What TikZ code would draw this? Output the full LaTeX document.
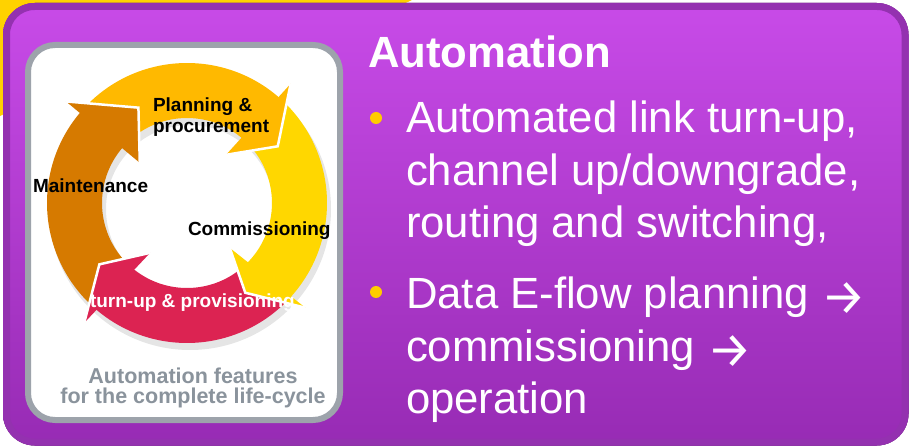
\documentclass[tikz,border=0pt]{standalone}
\usepackage{fontspec}
\setmainfont{Liberation Sans}
\newfontfamily\arrowfont{Fira Sans}
\usetikzlibrary{calc}
\definecolor{bgyellow}{HTML}{FFD200}
\definecolor{boxtop}{HTML}{C84BE8}
\definecolor{boxbot}{HTML}{972BB4}
\definecolor{boxedge}{HTML}{9431B0}
\definecolor{cardedge}{HTML}{9DA3AB}
\definecolor{capgray}{HTML}{8A939C}
\definecolor{planc}{HTML}{FFB900}
\definecolor{commc}{HTML}{FFD700}
\definecolor{turnc}{HTML}{DC2352}
\definecolor{maintc}{HTML}{D67A00}
\definecolor{dotc}{HTML}{FFCC00}
% body: start angle, end angle, colour
\newcommand{\ringbody}[3]{%
  \fill[#3] ($(c)+(#1:140pt)$) arc[start angle=#1, end angle=#2, radius=140pt]
    -- ($(c)+(#2:85pt)$) arc[start angle=#2, end angle=#1, radius=85pt] -- cycle;}
% head: outer barb angle, inner barb angle, tip angle, colour
\newcommand{\ringhead}[4]{%
  \fill[#4] ($(c)+(#1:158pt)$) -- ($(c)+(#3:107pt)$) -- ($(c)+(#2:62pt)$) -- cycle;
  \draw[white, line width=2.5pt, line join=miter] ($(c)+(#1:158pt)$) -- ($(c)+(#3:107pt)$) -- ($(c)+(#2:62pt)$);}
\newcommand{\thinarrow}{{\arrowfont\fontsize{50}{54}\selectfont\raisebox{-6pt}{→}}}
\begin{document}
\begin{tikzpicture}[x=1pt,y=-1pt,
  every node/.style={inner sep=0pt, outer sep=0pt},
  lbl/.style={font=\fontsize{19}{21}\selectfont\bfseries, text=black, anchor=base west},
  btext/.style={font=\fontsize{43.7}{50}\selectfont, text=white, anchor=base west},
  captxt/.style={font=\fontsize{21.5}{20}\selectfont\bfseries, text=capgray, align=center, anchor=base},
  bdot/.style={fill=dotc, draw=none}]
\useasboundingbox (0,0) rectangle (912,446);
\fill[white] (0,0) rectangle (912,446);
% yellow background blob
\fill[bgyellow] (0,0) -- (412,0) .. controls (330,40) and (120,60) .. (0,116) -- cycle;
% purple panel
\fill[top color=boxtop, bottom color=boxbot, rounded corners=32pt] (3,3) rectangle (908.5,445.5);
\draw[boxedge, line width=7pt, rounded corners=28pt] (6.5,6.5) rectangle (905,442);
% white card
\draw[cardedge, fill=white, line width=6pt, rounded corners=27pt] (28,45) rectangle (340,420);
% cycle
\coordinate (c) at (187,203);
\fill[black, opacity=0.10, even odd rule] ($(c)+(3,6)$) circle[radius=141pt] ($(c)+(3,6)$) circle[radius=84pt];
\ringbody{137}{48}{planc}
\ringbody{46}{-47}{commc}
\ringbody{-46}{-131.5}{turnc}
\ringbody{-132}{-221}{maintc}
\ringhead{49}{51}{32}{planc}
\ringhead{-41.5}{-46.4}{-57}{commc}
\ringhead{-130.6}{-126.5}{-145}{turnc}
\ringhead{-220}{-220.4}{-243}{maintc}
% cycle labels
\node[lbl] (plan1) at (153,112) {Planning \&};
\node[lbl] (plan2) at (153,133) {procurement};
\node[lbl] (maint) at (33,193) {Maintenance};
\node[lbl] (comm) at (188,236) {Commissioning};
\node[lbl, text=white, font=\fontsize{19}{20}\selectfont\bfseries] (turn) at (90,307) {turn-up \& provisioning};
\node[captxt] (cap) at (193,403) {Automation features\\for the complete life-cycle};
% right side text
\node[font=\fontsize{43.7}{50}\selectfont\bfseries, text=white, anchor=base west] (title) at (368,68) {Automation};
\fill[bdot] (376,118) circle[radius=6pt];
\fill[bdot] (376,292) circle[radius=6pt];
\node[btext] (b1a) at (406,133) {Automated link turn-up,};
\node[btext] (b1b) at (406,186) {channel up/downgrade,};
\node[btext] (b1c) at (406,238) {routing and switching,};
\node[btext] (b2a) at (406,308) {Data E-flow planning \thinarrow};
\node[btext] (b2b) at (406,361) {commissioning \thinarrow};
\node[btext] (b2c) at (406,413) {operation};
\end{tikzpicture}
\end{document}
